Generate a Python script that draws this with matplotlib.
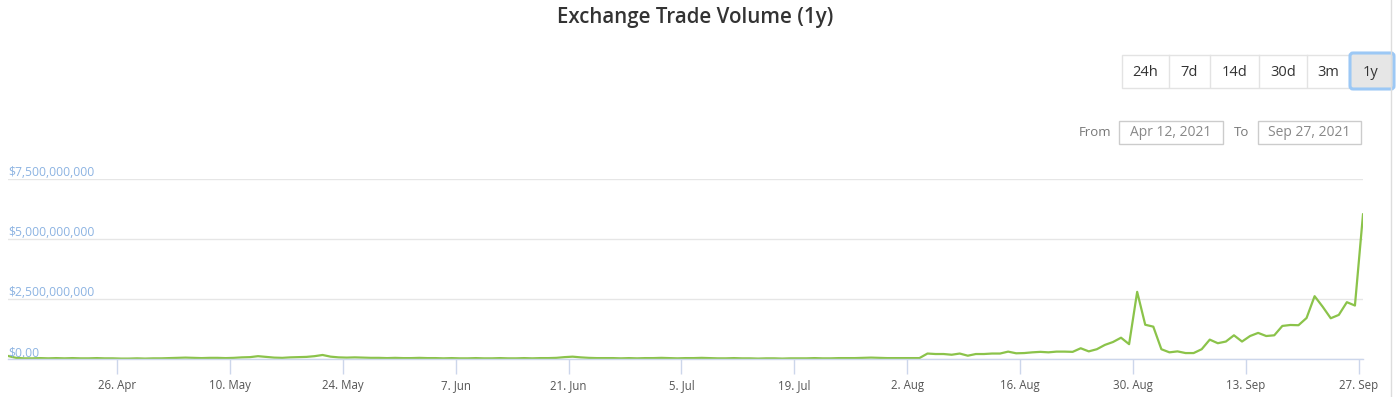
import matplotlib
matplotlib.use("Agg")
import matplotlib.pyplot as plt
import matplotlib.transforms as mtransforms
from matplotlib.patches import Rectangle, FancyBboxPatch
import pandas as pd

# daily exchange trade volume, billions of USD
vol_apr = [0.14, 0.06, 0.04, 0.04, 0.05, 0.04, 0.05, 0.04, 0.05, 0.04,
           0.04, 0.05, 0.04, 0.04, 0.03, 0.03, 0.04, 0.03, 0.04]
vol_may = [0.04, 0.05, 0.06, 0.07, 0.06, 0.05, 0.06, 0.06, 0.05, 0.06,
           0.08, 0.09, 0.13, 0.10, 0.07, 0.06, 0.08, 0.09, 0.10, 0.13,
           0.18, 0.11, 0.08, 0.07, 0.08, 0.07, 0.06, 0.06, 0.05, 0.06, 0.05]
vol_jun = [0.05, 0.06, 0.05, 0.05, 0.04, 0.05, 0.04, 0.04, 0.05, 0.04,
           0.04, 0.05, 0.04, 0.04, 0.05, 0.04, 0.05, 0.05, 0.06, 0.09,
           0.11, 0.08, 0.06, 0.05, 0.05, 0.05, 0.04, 0.05, 0.04, 0.05]
vol_jul = [0.05, 0.06, 0.05, 0.04, 0.05, 0.05, 0.06, 0.05, 0.04, 0.04,
           0.05, 0.04, 0.04, 0.03, 0.04, 0.04, 0.03, 0.04, 0.04, 0.04,
           0.05, 0.04, 0.04, 0.05, 0.05, 0.05, 0.06, 0.07, 0.06, 0.05, 0.05]
vol_aug = [0.05, 0.05, 0.05, 0.24, 0.22, 0.22, 0.19, 0.24, 0.15, 0.22,
           0.22, 0.24, 0.24, 0.32, 0.25, 0.26, 0.29, 0.31, 0.29, 0.32,
           0.32, 0.31, 0.46, 0.33, 0.42, 0.60, 0.72, 0.90, 0.63, 2.81, 1.44]
vol_sep = [1.36, 0.42, 0.29, 0.33, 0.26, 0.26, 0.42, 0.82, 0.67, 0.74,
           1.00, 0.74, 0.97, 1.10, 0.97, 1.00, 1.39, 1.43, 1.42, 1.72,
           2.63, 2.19, 1.71, 1.85, 2.38, 2.24, 6.04]

volume = [v * 1e9 for v in vol_apr + vol_may + vol_jun + vol_jul + vol_aug + vol_sep]
dates = pd.date_range("2021-04-12 12:00", periods=len(volume), freq="D")

tick_dates = pd.to_datetime(["2021-04-26", "2021-05-10", "2021-05-24", "2021-06-07",
                             "2021-06-21", "2021-07-05", "2021-07-19", "2021-08-02",
                             "2021-08-16", "2021-08-30", "2021-09-13", "2021-09-27"])
tick_labels = ["26. Apr", "10. May", "24. May", "7. Jun", "21. Jun", "5. Jul",
               "19. Jul", "2. Aug", "16. Aug", "30. Aug", "13. Sep", "27. Sep"]
y_ticks = [0, 2.5e9, 5e9, 7.5e9]
y_labels = ["$0.00", "$2,500,000,000", "$5,000,000,000", "$7,500,000,000"]
buttons = ["24h", "7d", "14d", "30d", "3m", "1y"]

plt.rcParams["font.family"] = ["Open Sans", "DejaVu Sans"]

W, H = 1396, 397
fig = plt.figure(figsize=(W / 100, H / 100), dpi=100)
# pixel coordinates, origin at top left
px = mtransforms.Affine2D().scale(1 / W, -1 / H).translate(0, 1) + fig.transFigure

ax = fig.add_axes([8 / W, (H - 359.3) / H, (1363 - 8) / W, 180 / H])
ax.plot(dates, volume, color="#8bc34a", lw=1.6, solid_joinstyle="round")
ax.set_xlim(dates[0], dates[-1])
ax.set_ylim(0, 7.5e9)

ax.set_yticks(y_ticks)
ax.yaxis.grid(True, color="#e6e6e6", lw=1)
ax.tick_params(axis="y", left=False, labelleft=False)
for v, lab in zip(y_ticks, y_labels):
    ax.text(0, v, lab, transform=ax.get_yaxis_transform(), ha="left", va="bottom",
            fontsize=8.7, color="#8cb3e2")

ax.set_xticks(tick_dates)
ax.set_xticklabels(tick_labels)
ax.tick_params(axis="x", direction="out", length=11, width=1, color="#ccd6eb",
               labelsize=8.3, labelcolor="#555555", pad=3.5)
for s in ["top", "left", "right"]:
    ax.spines[s].set_visible(False)
ax.spines["bottom"].set_color("#ccd6eb")
ax.spines["bottom"].set_linewidth(1)
ax.set_axisbelow(True)

fig.text(695 / W, 1 - 17 / H, "Exchange Trade Volume (1y)", ha="center", va="center",
         fontsize=14.8, fontweight="semibold", color="#333333")

# range selector buttons
edges = [1122, 1169, 1210, 1259, 1307, 1349, 1393]
fig.add_artist(Rectangle((edges[0], 54.5), edges[-1] - edges[0], 33, transform=px,
                         facecolor="white", edgecolor="#e3e3e3", lw=1))
for i, lab in enumerate(buttons):
    x0, x1 = edges[i], edges[i + 1]
    if lab == "1y":
        fig.add_artist(FancyBboxPatch((x0 + 1, 53), x1 - x0, 36,
                                      boxstyle="round,pad=0,rounding_size=3", transform=px,
                                      facecolor="#e6e6e6", edgecolor="#9cc8f5", lw=2.2))
    elif i > 0:
        fig.add_artist(plt.Line2D([x0, x0], [55, 87], transform=px, color="#e3e3e3", lw=1))
    fig.text((x0 + x1) / 2 / W, 1 - 73 / H, lab, ha="center", va="center",
             fontsize=10.5, color="#333333")

# date range inputs
fig.text(1095 / W, 1 - 132 / H, "From", ha="center", va="center", fontsize=9.5, color="#777777")
fig.text(1242 / W, 1 - 132 / H, "To", ha="center", va="center", fontsize=9.5, color="#777777")
for x0, x1, lab in [(1119, 1222.5, "Apr 12, 2021"), (1257.5, 1361, "Sep 27, 2021")]:
    fig.add_artist(Rectangle((x0, 121), x1 - x0, 23, transform=px,
                             facecolor="white", edgecolor="#cccccc", lw=1))
    fig.text((x0 + x1) / 2 / W, 1 - 133 / H, lab, ha="center", va="center",
             fontsize=10, color="#888888")

# right border of the page container
fig.add_artist(plt.Line2D([1391, 1391], [0, H], transform=px, color="#dddddd", lw=1))

fig.savefig("out.png", dpi=100)
